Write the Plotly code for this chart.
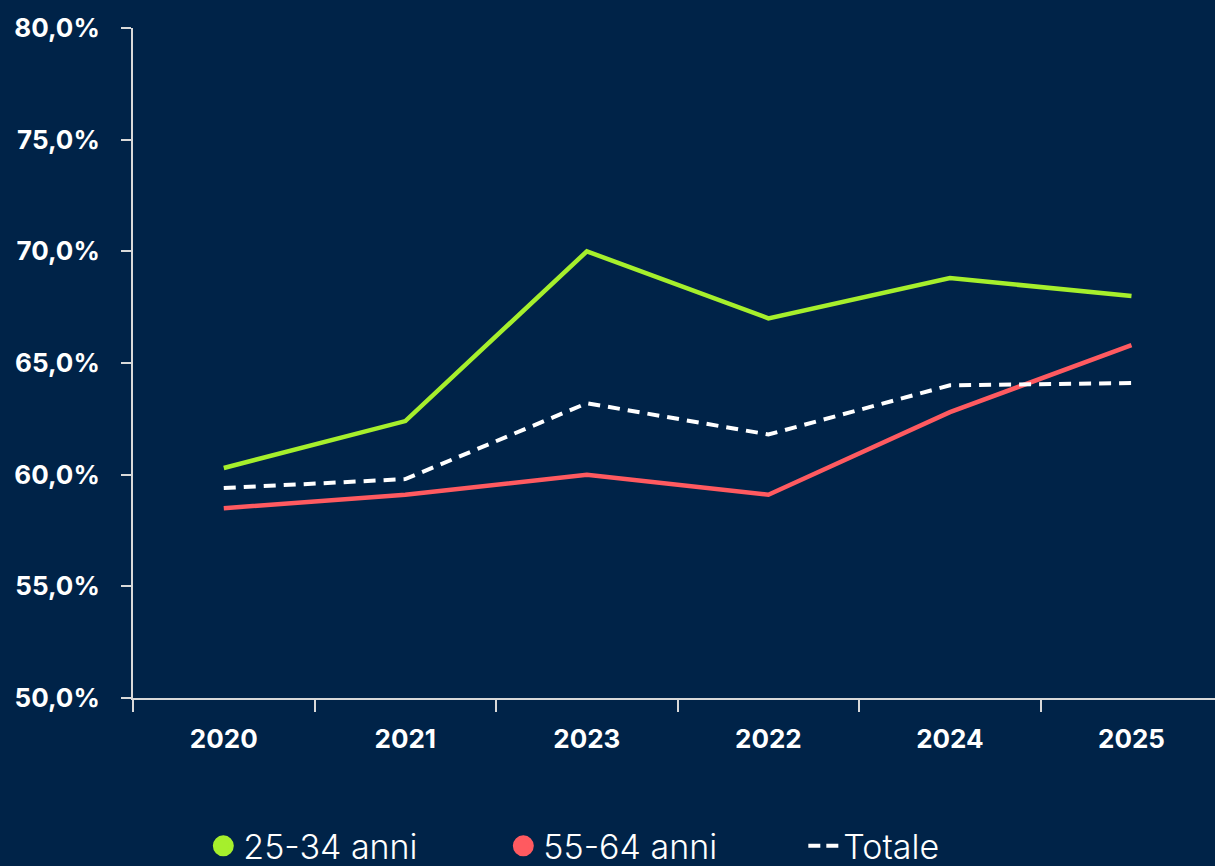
import plotly.graph_objects as go

years = ["2020", "2021", "2023", "2022", "2024", "2025"]
giovani = [60.3, 62.4, 70.0, 67.0, 68.8, 68.0]
anziani = [58.5, 59.1, 60.0, 59.1, 62.8, 65.8]
totale = [59.4, 59.8, 63.2, 61.8, 64.0, 64.1]

names = ["25-34 anni", "55-64 anni", "Totale"]
colors = ["#A6EF2C", "#FF5A60", "#FFFFFF"]

BG = "#002348"
AXIS = "#D9D9D9"
FONT = "Inter"

fig = go.Figure()

fig.add_trace(go.Scatter(x=years, y=giovani, mode="lines", name=names[0],
                         line=dict(color=colors[0], width=4.5), showlegend=False))
fig.add_trace(go.Scatter(x=years, y=anziani, mode="lines", name=names[1],
                         line=dict(color=colors[1], width=4.5), showlegend=False))
fig.add_trace(go.Scatter(x=years, y=totale, mode="lines", name=names[2],
                         line=dict(color=colors[2], width=4, dash="12px,8px"), showlegend=False))

# legend entries
fig.add_trace(go.Scatter(x=[None], y=[None], mode="markers", name=names[0],
                         marker=dict(color=colors[0], size=16, symbol="circle",
                                     line=dict(color=colors[0], width=5))))
fig.add_trace(go.Scatter(x=[None], y=[None], mode="markers", name=names[1],
                         marker=dict(color=colors[1], size=16, symbol="circle",
                                     line=dict(color=colors[1], width=5))))
fig.add_trace(go.Scatter(x=[None], y=[None], mode="lines", name=names[2],
                         line=dict(color=colors[2], width=4, dash="12px,6px")))

fig.update_layout(
    width=1215,
    height=866,
    autosize=False,
    paper_bgcolor=BG,
    plot_bgcolor=BG,
    separators=",.",
    margin=dict(l=133, r=0, t=28, b=168, autoexpand=False),
    font=dict(family=FONT, color="white"),
    showlegend=True,
    legend=dict(
        orientation="h",
        x=0.065, xanchor="left",
        y=-0.178, yanchor="top",
        font=dict(family=FONT, size=34, color="white", weight=300),
        entrywidth=255,
        bgcolor="rgba(0,0,0,0)",
    ),
    xaxis=dict(
        type="category",
        range=[-0.5, 5.46],
        showgrid=False,
        zeroline=False,
        showline=True,
        linecolor=AXIS,
        linewidth=2,
        ticks="outside",
        tickson="boundaries",
        ticklen=12,
        tickwidth=2,
        tickcolor=AXIS,
        tickfont=dict(family=FONT, size=26, color="white", weight="bold"),
        ticklabelstandoff=17,
        fixedrange=True,
    ),
    yaxis=dict(
        range=[50, 80],
        dtick=5,
        tick0=50,
        tickformat=".1f",
        ticksuffix="%",
        showgrid=False,
        zeroline=False,
        showline=True,
        linecolor=AXIS,
        linewidth=2,
        ticks="outside",
        ticklen=10,
        tickwidth=2,
        tickcolor=AXIS,
        tickfont=dict(family=FONT, size=26, color="white", weight="bold"),
        ticklabelstandoff=16,
        fixedrange=True,
    ),
)

fig.write_html(
    "out.html",
    config={"displayModeBar": False},
    post_script="document.body.style.margin='0';document.body.style.overflow='hidden';",
)
